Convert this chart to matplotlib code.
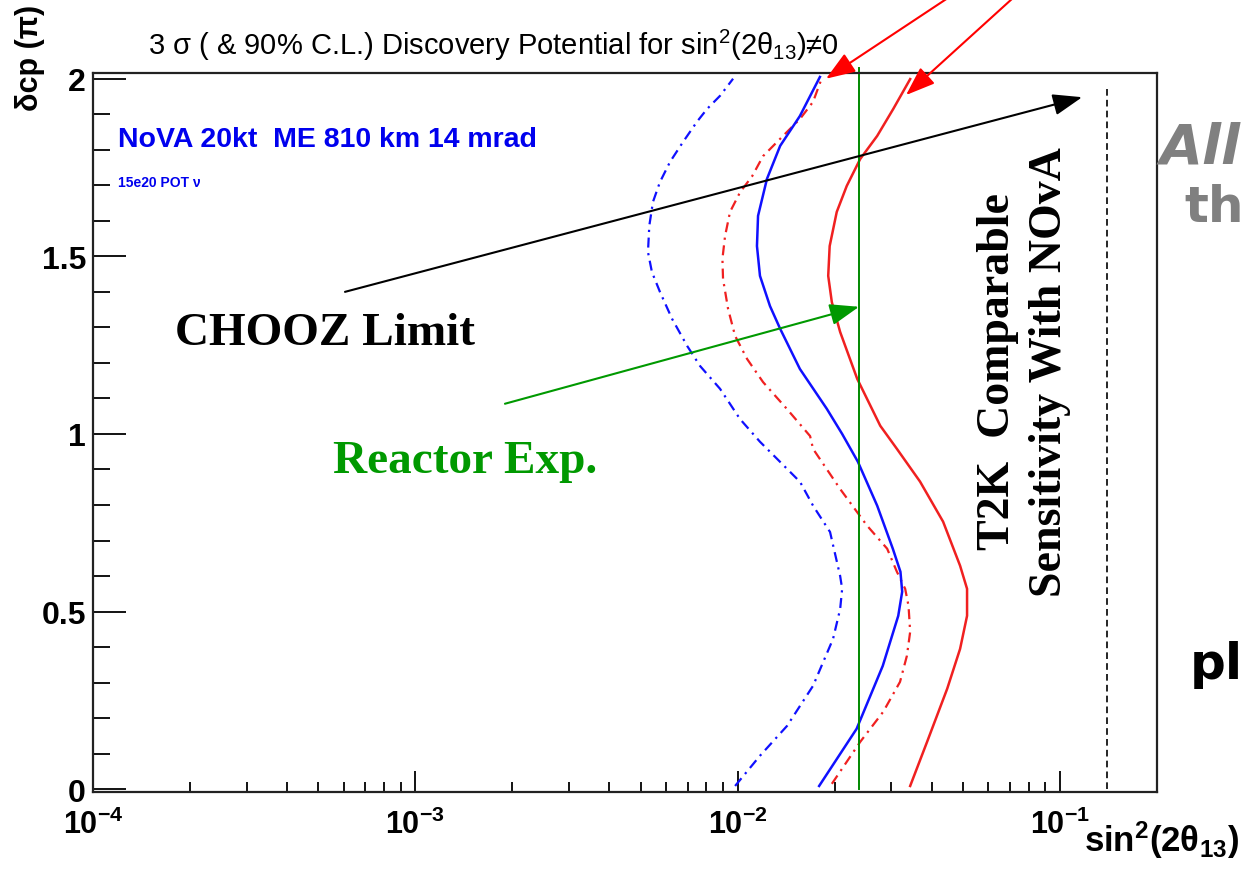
import matplotlib
matplotlib.use('Agg')
import matplotlib.pyplot as plt
from matplotlib.ticker import FixedLocator, NullFormatter, LogLocator

plt.rcParams['font.family'] = ['Liberation Sans', 'DejaVu Sans']
plt.rcParams['mathtext.fontset'] = 'custom'
plt.rcParams['mathtext.rm'] = 'Liberation Sans'
plt.rcParams['mathtext.it'] = 'Liberation Sans:italic'
plt.rcParams['mathtext.bf'] = 'Liberation Sans:bold'

# 曲线数据 (delta_cp 单位 pi, sin^2(2theta13))
blue_solid_dcp = [0.009, 0.170, 0.347, 0.488, 0.556, 0.612, 0.677, 0.798, 0.922, 1.000, 1.071,
                  1.183, 1.296, 1.360, 1.445, 1.529, 1.614, 1.718, 1.811, 1.895, 2.005]
blue_solid_s2t = [0.0179, 0.0234, 0.0282, 0.0315, 0.0324, 0.0320, 0.0303, 0.0271, 0.0236, 0.0211, 0.0189,
                  0.0156, 0.01355, 0.0126, 0.01173, 0.01148, 0.01157, 0.01233, 0.01355, 0.0156, 0.0180]

red_solid_dcp = [0.009, 0.133, 0.283, 0.395, 0.488, 0.564, 0.629, 0.753, 0.866, 0.958, 1.023,
                 1.155, 1.287, 1.371, 1.445, 1.529, 1.625, 1.698, 1.774, 1.839, 1.915, 1.999]
red_solid_s2t = [0.0343, 0.0387, 0.0447, 0.0490, 0.0515, 0.0515, 0.0490, 0.0434, 0.0368, 0.0312, 0.0277,
                 0.0235, 0.0208, 0.0196, 0.0191, 0.0193, 0.0203, 0.0218, 0.0240, 0.0271, 0.0304, 0.0343]

blue_dash_dcp = [0.009, 0.094, 0.178, 0.291, 0.423, 0.507, 0.564, 0.600, 0.724, 0.798, 0.865,
                 0.930, 0.978, 1.042, 1.127, 1.191, 1.248, 1.324, 1.400, 1.456, 1.512, 1.586,
                 1.653, 1.709, 1.766, 1.822, 1.879, 1.915, 1.952, 2.000]
blue_dash_s2t = [0.00982, 0.01173, 0.01423, 0.01714, 0.01977, 0.0208, 0.0211, 0.0208, 0.01935, 0.01714, 0.01562,
                 0.01325, 0.01173, 0.01017, 0.00882, 0.00765, 0.00697, 0.00626, 0.00574, 0.00542, 0.00527, 0.00532,
                 0.00546, 0.00574, 0.00617, 0.00677, 0.00748, 0.00804, 0.00882, 0.00968]

red_dash_dcp = [0.015, 0.133, 0.218, 0.302, 0.375, 0.443, 0.516, 0.564, 0.612, 0.677, 0.742,
                0.845, 0.958, 0.994, 1.070, 1.146, 1.211, 1.276, 1.352, 1.436, 1.493, 1.557,
                1.625, 1.680, 1.726, 1.782, 1.839, 1.887, 1.935, 2.005]
red_dash_s2t = [0.0196, 0.0240, 0.0283, 0.0319, 0.0335, 0.0343, 0.0339, 0.0331, 0.0312, 0.0291, 0.0252,
                0.0208, 0.01714, 0.01678, 0.01423, 0.01199, 0.0107, 0.00982, 0.00934, 0.00901, 0.00897, 0.00914,
                0.00947, 0.01017, 0.0111, 0.01199, 0.01383, 0.01562, 0.01714, 0.0183]

reactor_limit = 0.0238
chooz_limit = 0.14

y_ticks = [0, 0.5, 1, 1.5, 2]
y_ticklabels = ['0', '0.5', '1', '1.5', '2']
x_ticks = [1e-4, 1e-3, 1e-2, 1e-1]
x_ticklabels = [r'$\mathbf{10^{-4}}$', r'$\mathbf{10^{-3}}$', r'$\mathbf{10^{-2}}$', r'$\mathbf{10^{-1}}$']

fig = plt.figure(figsize=(12.47, 8.7), dpi=100)
ax = fig.add_axes([0.0746, 0.0885, 0.8532, 0.8264])
ax.set_xscale('log')

dashdot = (0, (4.5, 2.5, 1, 2.5))
ax.plot(blue_dash_s2t, blue_dash_dcp, color='#1010ff', lw=1.6, ls=dashdot)
ax.plot(red_dash_s2t, red_dash_dcp, color='#f02020', lw=1.6, ls=dashdot)
ax.plot(blue_solid_s2t, blue_solid_dcp, color='#1010ff', lw=1.8)
ax.plot(red_solid_s2t, red_solid_dcp, color='#f02020', lw=1.8)

ax.plot([reactor_limit, reactor_limit], [0, 2.03], color='#008800', lw=1.4, clip_on=False)
ax.plot([chooz_limit, chooz_limit], [0, 1.98], color='black', lw=1.2, ls=(0, (4, 2.5)))

ax.set_xlim(1e-4, 0.2)
ax.set_ylim(-0.008, 2.016)

# 坐标轴和刻度
for s in ax.spines.values():
    s.set_linewidth(1.6)
    s.set_color('#222222')
ax.yaxis.set_major_locator(FixedLocator(y_ticks))
ax.yaxis.set_minor_locator(FixedLocator([v / 10 for v in range(0, 21) if v % 5 != 0]))
ax.set_yticklabels(y_ticklabels, fontsize=23, fontweight='bold')
ax.xaxis.set_major_locator(FixedLocator(x_ticks))
ax.xaxis.set_minor_locator(LogLocator(base=10, subs=range(2, 10)))
ax.xaxis.set_minor_formatter(NullFormatter())
ax.set_xticklabels(x_ticklabels, fontsize=22)
ax.tick_params(axis='y', which='major', direction='in', length=24, width=1.3, pad=5)
ax.tick_params(axis='y', which='minor', direction='in', length=12, width=1.3)
ax.tick_params(axis='x', which='major', direction='in', length=15, width=1.3, pad=12)
ax.tick_params(axis='x', which='minor', direction='in', length=7, width=1.3)

# 标题和坐标标签
fig.text(148 / 1247, 1 - 45 / 870,
         '3 σ ( & 90% C.L.) Discovery Potential for sin$^{2}$(2θ$_{13}$)≠0',
         fontsize=21, ha='left', va='center')
fig.text(30 / 1247, 1 - 58 / 870, 'δcp (π)', fontsize=22, fontweight='bold',
         rotation=90, ha='center', va='center')
fig.text(1084 / 1247, 1 - 852 / 870, r'sin$^{\mathbf{2}}$(2θ$_{\mathbf{13}}$)', fontsize=25,
         fontweight='bold', ha='left', va='baseline')

fig.text(118 / 1247, 1 - 140 / 870, 'NoVA 20kt  ME 810 km 14 mrad', fontsize=20.5,
         fontweight='bold', color='#0000ee', ha='left', va='center')
fig.text(118 / 1247, 1 - 183 / 870, '15e20 POT ν', fontsize=10,
         fontweight='bold', color='#0000ee', ha='left', va='center')

# 注释文字
serif = ['Liberation Serif', 'DejaVu Serif']
fig.text(175 / 1247, 1 - 334 / 870, 'CHOOZ Limit', fontsize=34, fontweight='bold',
         family=serif, ha='left', va='center')
fig.text(333 / 1247, 1 - 462 / 870, 'Reactor Exp.', fontsize=34, fontweight='bold',
         family=serif, color='#009900', ha='left', va='center')
fig.text(1024 / 1247, 1 - 372 / 870, 'T2K  Comparable\nSensitivity With NOvA', fontsize=33,
         fontweight='bold', family=serif, rotation=90, ha='center', va='center',
         linespacing=1.3, multialignment='center')

# 箭头
head = '-|>,head_length=0.6,head_width=0.22'
ax.annotate('', xy=(0.1172, 1.948), xytext=(6.05e-4, 1.40),
            arrowprops=dict(arrowstyle=head, mutation_scale=30, color='black', lw=1.5,
                            shrinkA=0, shrinkB=0), annotation_clip=False)
ax.annotate('', xy=(reactor_limit, 1.358), xytext=(1.897e-3, 1.085),
            arrowprops=dict(arrowstyle=head, mutation_scale=30, color='#009900', lw=1.5,
                            shrinkA=0, shrinkB=0), annotation_clip=False)
ax.annotate('', xy=(0.0188, 2.0), xytext=(0.049, 2.25),
            arrowprops=dict(arrowstyle=head, mutation_scale=30, color='red', lw=1.5,
                            shrinkA=0, shrinkB=0), annotation_clip=False)
ax.annotate('', xy=(0.0333, 1.954), xytext=(0.0762, 2.25),
            arrowprops=dict(arrowstyle=head, mutation_scale=30, color='red', lw=1.5,
                            shrinkA=0, shrinkB=0), annotation_clip=False)

# 幻灯片右侧被截断的文字
fig.text(1160 / 1247, 1 - 148 / 870, 'All', fontsize=40, fontweight='bold', style='italic',
         family=['DejaVu Sans'], color='#808080', ha='left', va='center')
fig.text(1184 / 1247, 1 - 208 / 870, 'th', fontsize=36, fontweight='bold',
         family=['DejaVu Sans'], color='#808080', ha='left', va='center')
fig.text(1190 / 1247, 1 - 665 / 870, 'pl', fontsize=36, fontweight='bold',
         family=['DejaVu Sans'], color='black', ha='left', va='center')

fig.savefig('out.png', dpi=100)
